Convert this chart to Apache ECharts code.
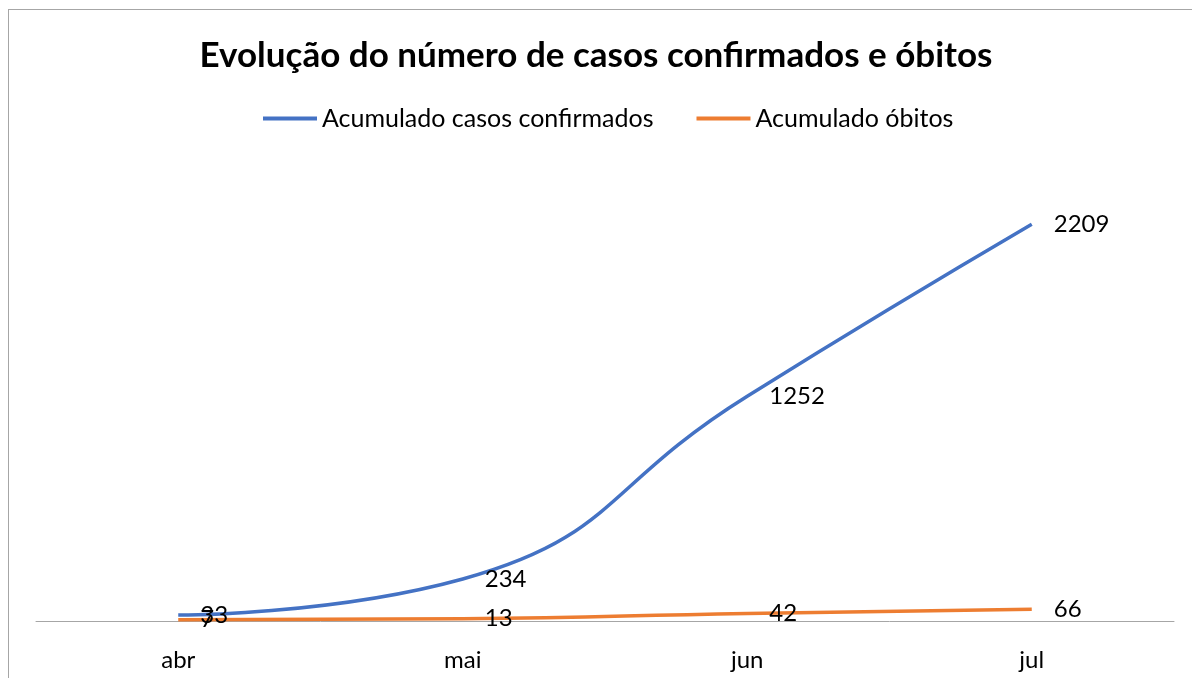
<!DOCTYPE html>
<html>
<head>
<meta charset="utf-8">
<script src="https://cdn.jsdelivr.net/npm/echarts@6/dist/echarts.min.js"></script>
<style>
  html, body { margin: 0; padding: 0; background: #fff; }
  #frame { position: absolute; left: 8px; top: 9px; width: 1300px; height: 800px; border: 1px solid #a6a6a6; box-sizing: border-box; }
  #chart { position: absolute; left: 0; top: 0; width: 1192px; height: 678px; }
</style>
</head>
<body>
<div id="frame"></div>
<div id="chart"></div>
<script>
// meses
const categories = ['abr', 'mai', 'jun', 'jul']
// acumulados
const confirmados = [33, 234, 1252, 2209]
const obitos = [7, 13, 42, 66]

const fontFamily = 'Lato'

const labelStyle = {
  show: true,
  position: 'right',
  distance: 22,
  color: '#000',
  fontSize: 24,
  fontFamily: fontFamily
}

const option = {
  animation: false,
  title: {
    text: 'Evolução do número de casos confirmados e óbitos',
    left: 'center',
    top: 33,
    textStyle: {
      fontSize: 35,
      fontWeight: 'bold',
      color: '#000',
      fontFamily: fontFamily
    }
  },
  legend: {
    top: 101,
    left: 258,
    itemWidth: 54,
    itemHeight: 4,
    itemGap: 43,
    icon: 'rect',
    textStyle: {
      fontSize: 25,
      color: '#000',
      fontFamily: fontFamily
    },
    data: ['Acumulado casos confirmados', 'Acumulado óbitos']
  },
  grid: {
    left: 36,
    right: 18,
    top: 172,
    bottom: 57
  },
  xAxis: {
    type: 'category',
    data: categories,
    boundaryGap: true,
    axisLine: { lineStyle: { color: '#a6a6a6', width: 1 } },
    axisTick: { show: false },
    axisLabel: {
      color: '#000',
      fontSize: 24,
      fontFamily: fontFamily,
      margin: 27
    }
  },
  yAxis: {
    type: 'value',
    min: 0,
    max: 2500,
    show: false,
    splitLine: { show: false }
  },
  series: [
    {
      name: 'Acumulado casos confirmados',
      type: 'line',
      data: confirmados,
      smooth: 0.5,
      symbol: 'circle',
      symbolSize: 0,
      color: '#4472c4',
      lineStyle: { width: 3.5, color: '#4472c4' },
      label: labelStyle,
      z: 3
    },
    {
      name: 'Acumulado óbitos',
      type: 'line',
      data: obitos,
      smooth: 0.5,
      symbol: 'circle',
      symbolSize: 0,
      color: '#ed7d31',
      lineStyle: { width: 3.5, color: '#ed7d31' },
      label: labelStyle,
      z: 2
    }
  ]
}

const chart = echarts.init(document.getElementById('chart'))
chart.setOption(option)
</script>
</body>
</html>
